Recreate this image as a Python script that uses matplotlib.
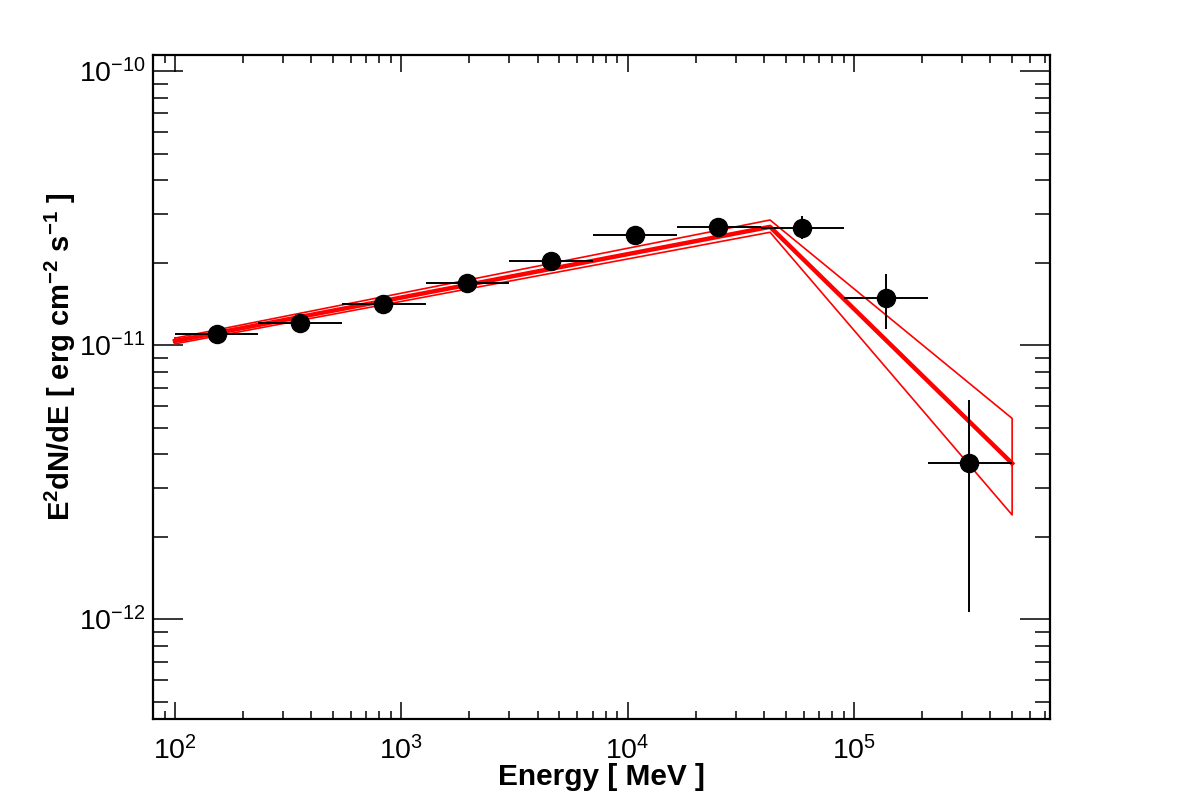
import numpy as np
import matplotlib
matplotlib.use("Agg")
import matplotlib.pyplot as plt
from matplotlib.ticker import FixedLocator, LogLocator, NullFormatter, LogFormatterSciNotation

plt.rcParams['font.family'] = ['Liberation Sans', 'DejaVu Sans']
plt.rcParams['mathtext.fontset'] = 'custom'
plt.rcParams['mathtext.rm'] = 'Liberation Sans'
plt.rcParams['mathtext.it'] = 'Liberation Sans:italic'
plt.rcParams['mathtext.bf'] = 'Liberation Sans:bold'
plt.rcParams['axes.unicode_minus'] = False

# Data points (SED)
energy = [153, 357, 830, 1950, 4580, 10790, 25100, 58900, 138700, 323000]
e_low = [100, 233, 547, 1280, 3000, 7050, 16500, 38700, 90700, 212000]
e_high = [233, 547, 1280, 3000, 7050, 16500, 38700, 90700, 212000, 500000]
flux = [1.10e-11, 1.20e-11, 1.41e-11, 1.68e-11, 2.03e-11, 2.52e-11, 2.70e-11, 2.68e-11, 1.485e-11, 3.71e-12]
flux_low = [1.06e-11, 1.16e-11, 1.37e-11, 1.64e-11, 1.98e-11, 2.46e-11, 2.62e-11, 2.43e-11, 1.14e-11, 1.06e-12]
flux_high = [1.14e-11, 1.24e-11, 1.45e-11, 1.72e-11, 2.08e-11, 2.58e-11, 2.78e-11, 2.96e-11, 1.82e-11, 6.3e-12]

# Broken power-law fit and its error butterfly
fit_energy = [100, 42600, 500000]
fit_central = [1.035e-11, 2.70e-11, 3.7e-12]
band_upper = [1.06e-11, 2.86e-11, 5.4e-12]
band_lower = [1.01e-11, 2.58e-11, 2.4e-12]

# Major tick positions
x_major = [1e2, 1e3, 1e4, 1e5]
y_major = [1e-12, 1e-11, 1e-10]

fig = plt.figure(figsize=(11.82, 8.0), dpi=100)
ax = fig.add_axes([153/1182, 1-719/800, 897/1182, 664/800])
ax.set_xscale('log')
ax.set_yscale('log')
ax.set_xlim(80, 7.35e5)
ax.set_ylim(4.32e-13, 1.144e-10)

# butterfly outline
bx = fit_energy + fit_energy[::-1] + [fit_energy[0]]
by = band_upper + band_lower[::-1] + [band_upper[0]]
ax.plot(bx, by, color='red', lw=1.2, zorder=2)
ax.plot(fit_energy, fit_central, color='red', lw=3.2, zorder=2)

E = np.array(energy)
F = np.array(flux)
xerr = [E - np.array(e_low), np.array(e_high) - E]
yerr = [F - np.array(flux_low), np.array(flux_high) - F]
ax.errorbar(E, F, xerr=xerr, yerr=yerr, fmt='o', color='black', ms=13,
            elinewidth=1.4, capsize=0, zorder=3)

for s in ax.spines.values():
    s.set_linewidth(1.6)

ax.xaxis.set_major_locator(FixedLocator(x_major))
ax.xaxis.set_major_formatter(LogFormatterSciNotation())
ax.xaxis.set_minor_locator(LogLocator(base=10, subs=np.arange(2, 10), numticks=20))
ax.yaxis.set_major_locator(FixedLocator(y_major))
ax.yaxis.set_major_formatter(LogFormatterSciNotation())
ax.yaxis.set_minor_locator(LogLocator(base=10, subs=np.arange(2, 10), numticks=20))
ax.xaxis.set_minor_formatter(NullFormatter())
ax.yaxis.set_minor_formatter(NullFormatter())

ax.tick_params(which='both', direction='in', top=True, right=True, width=1.1, labelsize=20.5)
ax.tick_params(axis='x', which='major', length=12.2, pad=12)
ax.tick_params(axis='x', which='minor', length=5.8)
ax.tick_params(axis='y', which='major', length=21.6, pad=5)
ax.tick_params(axis='y', which='minor', length=10.8)

ax.set_xlabel('Energy [ MeV ]', fontsize=21.5, fontweight='bold')
ax.xaxis.set_label_coords(0.5, -0.066)
ax.set_ylabel(r'$\mathbf{E^{2}dN/dE\ [\ erg\ cm^{-2}\ s^{-1}\ ]}$', fontsize=21)
ax.yaxis.set_label_coords(-0.084, 0.545)

fig.savefig('out.png', dpi=100)
